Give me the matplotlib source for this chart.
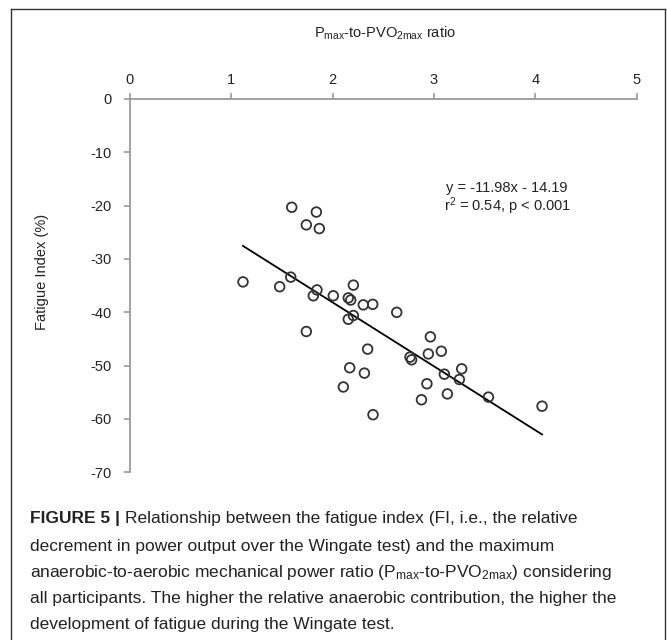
import matplotlib
matplotlib.use("Agg")
import matplotlib.pyplot as plt
from matplotlib.lines import Line2D
import numpy as np

plt.rcParams['font.family'] = ['Liberation Sans', 'DejaVu Sans']
plt.rcParams['mathtext.fontset'] = 'custom'
plt.rcParams['mathtext.rm'] = 'Liberation Sans'
plt.rcParams['mathtext.it'] = 'Liberation Sans:italic'
plt.rcParams['mathtext.bf'] = 'Liberation Sans:bold'

# ---- data ----
ratio = [1.596, 1.839, 1.740, 1.868, 1.115, 1.477, 1.586, 1.845, 1.809, 2.006,
         2.154, 2.178, 2.204, 2.302, 2.395, 2.632, 2.154, 2.204, 1.740, 2.345,
         2.168, 2.313, 2.105, 2.398, 2.964, 2.763, 2.779, 2.944, 3.072, 3.273,
         3.102, 3.250, 2.930, 3.132, 2.876, 3.537, 4.066]
fatigue = [-20.3, -21.2, -23.6, -24.3, -34.3, -35.2, -33.4, -35.8, -36.9, -36.9,
           -37.3, -37.7, -34.9, -38.6, -38.5, -40.0, -41.3, -40.6, -43.6, -46.9,
           -50.4, -51.4, -54.0, -59.2, -44.6, -48.4, -48.9, -47.8, -47.3, -50.6,
           -51.6, -52.6, -53.4, -55.3, -56.4, -55.9, -57.6]
slope, intercept = -11.98, -14.19
x_ticks = [0, 1, 2, 3, 4, 5]
y_ticks = [0, -10, -20, -30, -40, -50, -60, -70]

W, H = 667, 640
fig = plt.figure(figsize=(W / 100, H / 100), dpi=100)
fig.patch.set_facecolor('white')

ax = fig.add_axes([130 / W, 1 - 472.3 / H, 506.7 / W, 373.3 / H])
ax.set_xlim(0, 5)
ax.set_ylim(-70, 0)

ax.scatter(ratio, fatigue, s=48, facecolors='none', edgecolors='#333333',
           linewidths=1.3, zorder=3, clip_on=False)
xl = np.array([min(ratio), max(ratio)])
ax.plot(xl, slope * xl + intercept, color='black', lw=1.3, zorder=2)

axis_col = '#9a9a9a'
for s in ['right', 'bottom']:
    ax.spines[s].set_visible(False)
for s in ['top', 'left']:
    ax.spines[s].set_color(axis_col)
    ax.spines[s].set_linewidth(1.3)
ax.xaxis.tick_top()
ax.set_xticks(x_ticks)
ax.set_yticks(y_ticks)
ax.set_xticklabels([str(v) for v in x_ticks])
ax.set_yticklabels([str(v) for v in y_ticks])
ax.tick_params(axis='both', colors=axis_col, labelcolor='#222222',
               labelsize=10.5, length=4, width=1.2, direction='out')
ax.tick_params(axis='x', pad=5)
ax.tick_params(axis='y', pad=9)

ax.text(3.12, -16.7, 'y = -11.98x - 14.19', fontsize=10.5, color='#222222',
        ha='left', va='center')
ax.text(3.10, -20.1, r'r$^{\mathregular{2}}$ = 0.54, p < 0.001', fontsize=10.5,
        color='#222222', ha='left', va='center')

fig.text(385 / W, 1 - 33 / H,
         r'P$_{\mathregular{max}}$-to-PVO$_{\mathregular{2max}}$ ratio',
         fontsize=10.5, color='#222222', ha='center', va='center')
fig.text(42 / W, 1 - 272 / H, 'Fatigue Index (%)', fontsize=10.5,
         color='#222222', ha='center', va='center', rotation=90)

# frame
fcol = '#333333'
fig.add_artist(Line2D([11 / W, 11 / W], [0, 1 - 9 / H], color=fcol, lw=1.0,
                      transform=fig.transFigure))
fig.add_artist(Line2D([11 / W, 665 / W], [1 - 9 / H, 1 - 9 / H], color=fcol,
                      lw=1.0, transform=fig.transFigure))
fig.add_artist(Line2D([665 / W, 665 / W], [0, 1 - 9 / H], color=fcol, lw=1.0,
                      transform=fig.transFigure))

# caption
cap_size = 12.5
cap_col = '#222222'
x0 = 30 / W
lines_y = [519, 546, 572, 599, 625]
renderer = fig.canvas.get_renderer()
t_bold = fig.text(x0, 1 - lines_y[0] / H, 'FIGURE 5 | ', fontsize=cap_size,
                  fontweight='bold', color=cap_col, ha='left', va='center')
bb = t_bold.get_window_extent(renderer)
fig.text(bb.x1 / W, 1 - lines_y[0] / H,
         'Relationship between the fatigue index (FI, i.e., the relative',
         fontsize=cap_size, color=cap_col, ha='left', va='center')
rest = [
    'decrement in power output over the Wingate test) and the maximum',
    r'anaerobic-to-aerobic mechanical power ratio (P$_{\mathregular{max}}$-to-PVO$_{\mathregular{2max}}$) considering',
    'all participants. The higher the relative anaerobic contribution, the higher the',
    'development of fatigue during the Wingate test.',
]
for ly, txt in zip(lines_y[1:], rest):
    fig.text(x0, 1 - ly / H, txt, fontsize=cap_size, color=cap_col,
             ha='left', va='center')

fig.savefig('out.png', dpi=100)
